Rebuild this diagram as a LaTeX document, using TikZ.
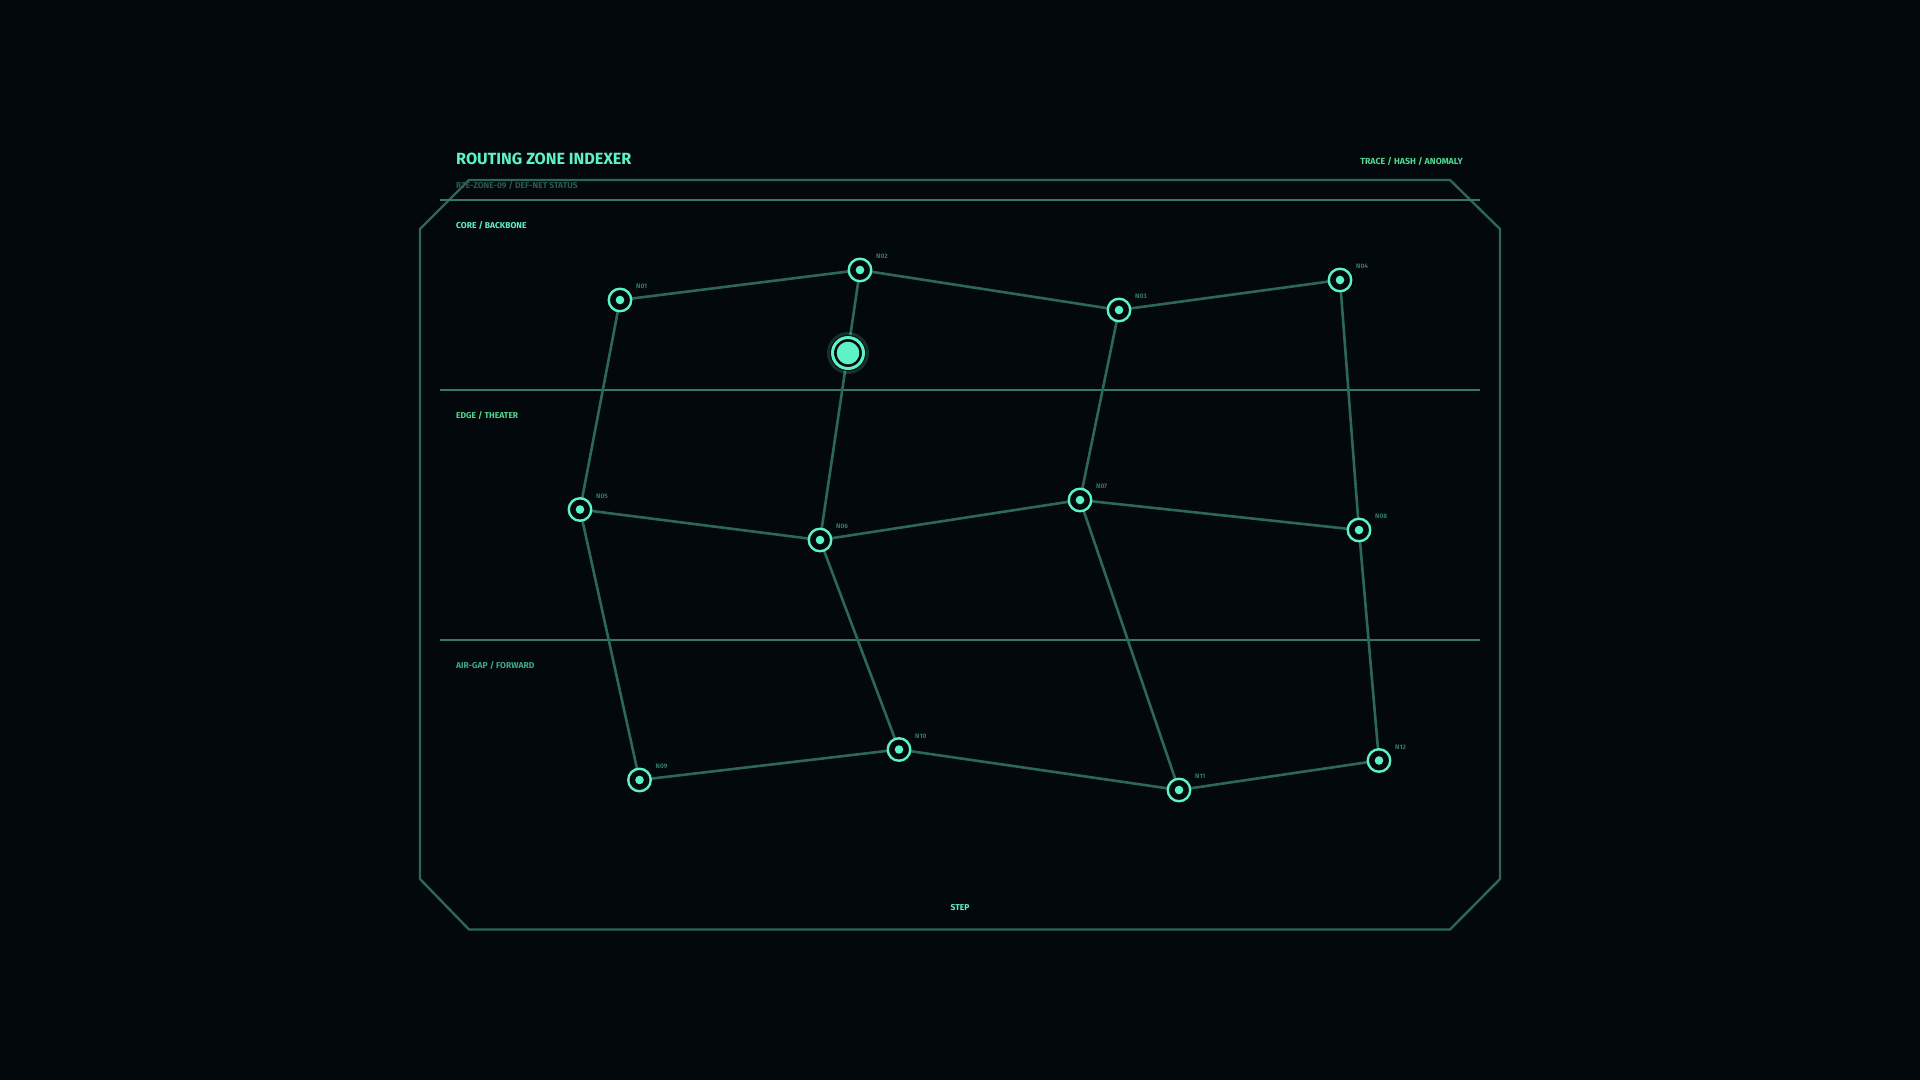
\documentclass[tikz,border=0pt]{standalone}
\usepackage{fontspec}
\setmainfont{Fira Sans}
\definecolor{bg}{HTML}{03080C}
\definecolor{frame}{HTML}{2E6656}
\definecolor{edgec}{HTML}{2D6857}
\definecolor{hline}{HTML}{367A64}
\definecolor{aqua}{HTML}{5EF2C8}
\definecolor{dimt}{HTML}{2B5A4C}
\definecolor{nlab}{HTML}{347866}
\definecolor{greenl}{HTML}{4FD890}
\definecolor{tealg}{HTML}{41A884}
\tikzset{
  netnode/.style={circle,draw=aqua,line width=2.4pt,fill=bg,minimum size=22.5pt,inner sep=0pt},
  nlabel/.style={anchor=base west,text=nlab,font=\fontsize{6.5}{6.5}\selectfont\bfseries,inner sep=0pt},
  link/.style={draw=edgec,line width=2.6pt},
  zonelabel/.style={anchor=base west,font=\fontsize{8.5}{8.5}\selectfont\bfseries,inner sep=0pt},
}
\begin{document}
\begin{tikzpicture}[x=1pt,y=-1pt]
\fill[bg] (0,0) rectangle (1920,1080);
\useasboundingbox (0,0) rectangle (1920,1080);
% frame
\draw[frame,line width=2.4pt] (469,180) -- (1450,180) -- (1500,229) -- (1500,879) -- (1450,929.5) -- (469,929.5) -- (420,879) -- (420,229) -- cycle;
% horizontal zone lines
\draw[hline,line width=2pt] (440,200) -- (1480,200);
\draw[hline,line width=2pt] (440,389.5) -- (1480,389.5);
\draw[hline,line width=2pt] (440,639.5) -- (1480,639.5);
% texts
\node[anchor=base west,text=aqua,font=\fontsize{16.2}{16.2}\selectfont\bfseries,inner sep=0pt] (title) at (456,164) {ROUTING ZONE INDEXER};
\node[anchor=base west,text=dimt,font=\fontsize{8.5}{8.5}\selectfont\bfseries,inner sep=0pt] (sub) at (456,188.5) {RTE-ZONE-09 / DEF-NET STATUS};
\node[anchor=base east,text=greenl,font=\fontsize{8.8}{8.8}\selectfont\bfseries,inner sep=0pt] (trace) at (1463,164.5) {TRACE / HASH / ANOMALY};
\node[zonelabel,text=aqua] (z1) at (456,228.5) {CORE / BACKBONE};
\node[zonelabel,text=greenl] (z2) at (456,418.5) {EDGE / THEATER};
\node[zonelabel,text=tealg] (z3) at (456,668.5) {AIR-GAP / FORWARD};
\node[anchor=base,text=aqua,font=\fontsize{8.5}{8.5}\selectfont\bfseries,inner sep=0pt] (step) at (960,910) {STEP};
% node coordinates
\coordinate (p1) at (620,300);
\coordinate (p2) at (860,270);
\coordinate (p3) at (1119,310);
\coordinate (p4) at (1340,280);
\coordinate (p5) at (580,509.5);
\coordinate (p6) at (820,540);
\coordinate (p7) at (1080,500);
\coordinate (p8) at (1359,530);
\coordinate (p9) at (639.5,780);
\coordinate (p10) at (899,749.5);
\coordinate (p11) at (1179,790);
\coordinate (p12) at (1379,760.5);
% links
\foreach \a/\b in {1/2,2/3,3/4,1/5,2/6,3/7,4/8,5/6,6/7,7/8,5/9,6/10,7/11,8/12,9/10,10/11,11/12}
  \draw[link] (p\a) -- (p\b);
% nodes
\foreach \i/\t in {1/N01,2/N02,3/N03,4/N04,5/N05,6/N06,7/N07,8/N08,9/N09,10/N10,11/N11,12/N12}{
  \node[netnode] (n\i) at (p\i) {};
  \fill[aqua] (n\i.center) circle (4.3pt);
  \node[nlabel] (l\i) at ([xshift=16pt,yshift=11.5pt]n\i.center) {\t};
}
% highlighted marker on link N02-N06
\node[circle,fill=aqua,opacity=0.18,minimum size=42pt,inner sep=0pt] (glow) at (848,353) {};
\node[circle,fill=bg,minimum size=36pt,inner sep=0pt] (mkbg) at (848,353) {};
\node[circle,draw=aqua,line width=3pt,minimum size=31pt,inner sep=0pt] (mk) at (848,353) {};
\fill[aqua] (mk.center) circle (11.3pt);
\end{tikzpicture}
\end{document}
